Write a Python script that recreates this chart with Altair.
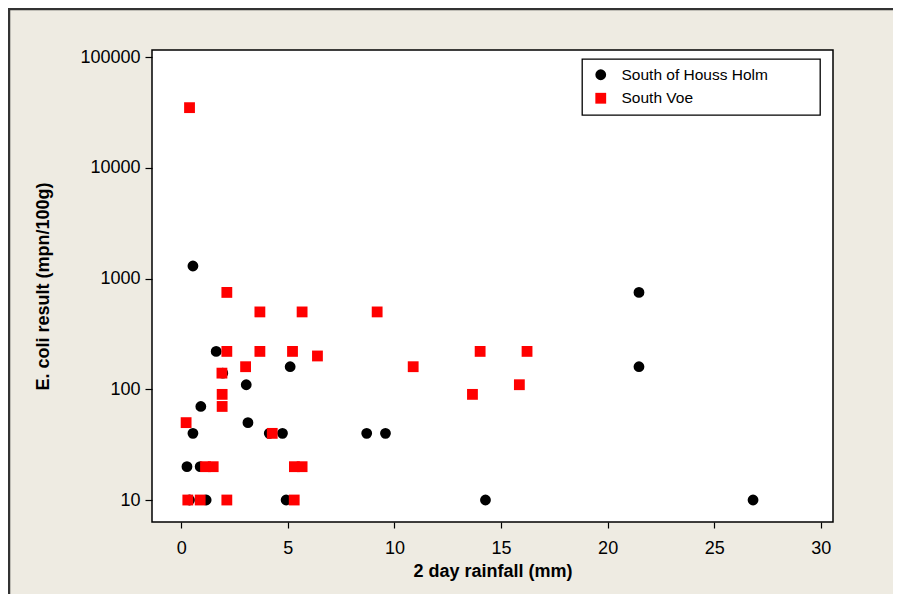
import altair as alt
import pandas as pd

site_names = ["South of Houss Holm", "South Voe"]
site_colors = ["#000000", "#ff0000"]
site_shapes = ["circle", "square"]

houss_rain = [0.55, 1.64, 1.95, 5.11, 3.05, 0.92, 3.13, 0.55, 4.13, 4.75, 8.70, 9.58,
              0.27, 0.89, 0.39, 1.17, 4.92, 14.27, 21.47, 21.47, 26.82]
houss_ecoli = [1300, 220, 140, 160, 110, 70, 50, 40, 40, 40, 40, 40,
               20, 20, 10, 10, 10, 10, 750, 160, 10]

voe_rain = [0.39, 2.14, 3.69, 5.67, 9.19, 2.14, 3.69, 5.22, 14.02, 16.22, 6.39, 3.02,
            10.88, 1.91, 15.86, 1.92, 13.66, 1.92, 0.23, 4.27, 1.14, 1.50, 5.31, 5.67,
            0.31, 0.89, 2.14, 5.30]
voe_ecoli = [35000, 750, 500, 500, 500, 220, 220, 220, 220, 220, 200, 160,
             160, 140, 110, 90, 90, 70, 50, 40, 20, 20, 20, 20,
             10, 10, 10, 10]

x_ticks = [0, 5, 10, 15, 20, 25, 30]
y_ticks = [10, 100, 1000, 10000, 100000]

df = pd.DataFrame({
    "rain": houss_rain + voe_rain,
    "ecoli": houss_ecoli + voe_ecoli,
    "site": [site_names[0]] * len(houss_rain) + [site_names[1]] * len(voe_rain),
})
df["order"] = range(len(df))

W, H = 681, 472
PL, PT, PR, PB = 144, 42, 60, 72

legend = alt.Legend(
    title=None, orient="none", legendX=430, legendY=9, labelLimit=400,
    labelExpr="datum.label + '" + "\u00a0" * 10 + "\u200b'",
)

points = alt.Chart(df).mark_point(filled=True, opacity=1, size=117, strokeWidth=0).encode(
    x=alt.X("rain:Q",
            scale=alt.Scale(domain=[-1.37, 30.57], nice=False, zero=False),
            axis=alt.Axis(values=x_ticks, title="2 day rainfall (mm)",
                          labelPadding=11, titlePadding=5)),
    y=alt.Y("ecoli:Q",
            scale=alt.Scale(type="log", domain=[6.33, 116100], nice=False),
            axis=alt.Axis(values=y_ticks, format="d", title="E. coli result  (mpn/100g)",
                          labelPadding=5, titlePadding=27)),
    color=alt.Color("site:N", scale=alt.Scale(domain=site_names, range=site_colors), legend=legend),
    shape=alt.Shape("site:N", scale=alt.Scale(domain=site_names, range=site_shapes), legend=legend),
    order=alt.Order("order:Q"),
)

edge = pd.DataFrame({"f": [0]})
left_edge = alt.Chart(edge).mark_rule(color="#333333", strokeWidth=2.5).encode(
    x=alt.value(-PL + 1), y=alt.value(-PT), y2=alt.value(H + PB),
)
top_edge = alt.Chart(edge).mark_rule(color="#333333", strokeWidth=2.5).encode(
    x=alt.value(-PL), x2=alt.value(W + PR), y=alt.value(-PT + 1),
)

chart = alt.layer(points, left_edge, top_edge).properties(
    width=W, height=H,
    autosize=alt.AutoSizeParams(type="none"),
    padding={"left": PL, "top": PT, "right": PR, "bottom": PB},
    background="#eeebe2",
).configure_view(
    fill="#ffffff", stroke="#000000", strokeWidth=1.5
).configure_axis(
    domain=False, grid=False, ticks=True, tickColor="#000000", tickWidth=1.2,
    labelFont="Liberation Sans", labelFontSize=18, labelColor="#000000",
    titleFont="Liberation Sans", titleFontSize=18, titleFontWeight="bold", titleColor="#000000",
).configure_axisX(tickSize=6).configure_axisY(tickSize=7).configure_legend(
    padding=8, symbolOffset=3, labelOffset=13, rowPadding=6.5,
    labelFont="Liberation Sans", labelFontSize=15.5, labelColor="#000000",
    fillColor="#ffffff", strokeColor="#000000", strokeWidth=1.3, cornerRadius=0,
    symbolSize=117, symbolStrokeWidth=0,
)

chart.save("out.html", embed_options={"renderer": "svg", "actions": False})
